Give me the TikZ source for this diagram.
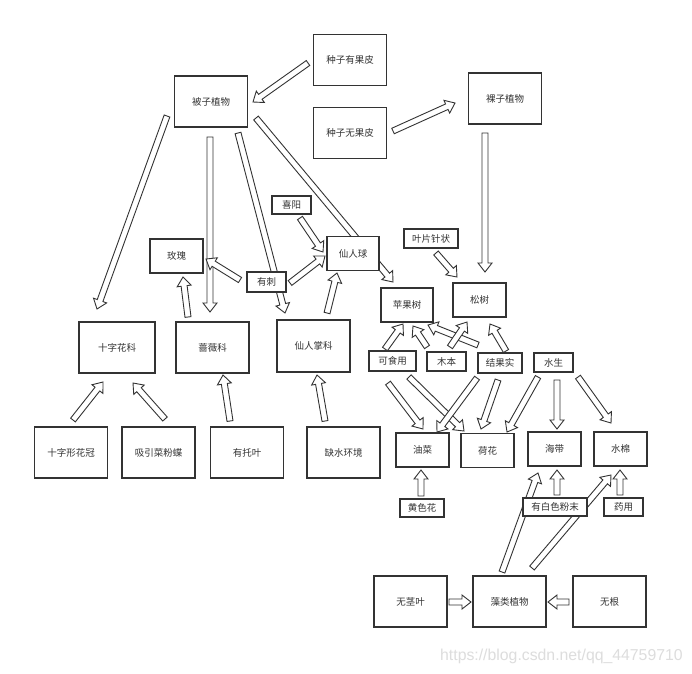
\documentclass[tikz,border=0pt]{standalone}
\usepackage{fontspec}
\setmainfont{Noto Sans CJK SC}
\newfontfamily\wmfont{Liberation Sans}
\usetikzlibrary{calc}
\pgfdeclarelayer{bg}
\pgfdeclarelayer{canvas}
\pgfsetlayers{canvas,bg,main}
\definecolor{ink}{HTML}{333333}
\definecolor{wm}{HTML}{DDDDDD}
\tikzset{
  box/.style={draw=ink, line width=1.1pt, fill=white, text=ink,
    font=\fontsize{9.5}{11}\selectfont, inner sep=0pt,
    minimum width=73pt, minimum height=51pt},
  mid/.style={box, minimum width=53pt, minimum height=34pt},
  tag/.style={box, minimum height=19pt},
  barrow/.style={draw=ink, line width=0.9pt, fill=white, line join=miter},
}
\newcommand\barr[2]{%
  \coordinate (bA) at #1; \coordinate (bB) at #2;
  \coordinate (bH) at ($(bB)!9pt!(bA)$);
  \draw[barrow] ($(bA)!3pt!90:(bB)$) -- ($(bH)!3pt!90:(bB)$) -- ($(bH)!7pt!90:(bB)$)
    -- (bB) -- ($(bH)!7pt!-90:(bB)$) -- ($(bH)!3pt!-90:(bB)$) -- ($(bA)!3pt!-90:(bB)$) -- cycle;}
\begin{document}
\begin{tikzpicture}[x=1pt,y=-1pt]
\begin{pgfonlayer}{canvas}
\fill[white] (0,0) rectangle (692,673);
\end{pgfonlayer}
\useasboundingbox (0,0) rectangle (692,673);
% big boxes
\node[box] (guopi) at (350,60) {种子有果皮};
\node[box] (beizi) at (211,101.5) {被子植物};
\node[box] (wuguopi) at (350,133) {种子无果皮};
\node[box] (luozi) at (505,98.5) {裸子植物};
\node[box, minimum width=76pt] (szhk) at (117,347.5) {十字花科};
\node[box] (qwk) at (212.5,347.5) {蔷薇科};
\node[box, minimum height=52pt] (xrzk) at (313.5,346) {仙人掌科};
\node[box] (szxhg) at (71,452.5) {十字形花冠};
\node[box] (xyc) at (158.5,452.5) {吸引菜粉蝶};
\node[box] (ytuo) at (247,452.5) {有托叶};
\node[box] (qs) at (343.5,452.5) {缺水环境};
\node[box] (wjy) at (410.5,601.5) {无茎叶};
\node[box] (zao) at (509.5,601.5) {藻类植物};
\node[box] (wugen) at (609.5,601.5) {无根};
% middle boxes
\node[mid] (meigui) at (176.5,256) {玫瑰};
\node[mid, minimum width=52pt] (xrq) at (353,253.5) {仙人球};
\node[mid, minimum width=52pt] (pingguo) at (407,305) {苹果树};
\node[mid] (songshu) at (479.5,300) {松树};
\node[mid] (youcai) at (422.5,450) {油菜};
\node[mid] (hehua) at (487.5,450.5) {荷花};
\node[mid] (haidai) at (554.5,449) {海带};
\node[mid] (shuimian) at (620.5,449) {水棉};
% tags
\node[tag, minimum width=39pt, minimum height=18pt] (xiyang) at (291.5,205) {喜阳};
\node[tag, minimum width=39pt, minimum height=20pt] (youci) at (266.5,282) {有刺};
\node[tag, minimum width=54pt] (yepian) at (431,238.5) {叶片针状};
\node[tag, minimum width=47pt, minimum height=20pt] (keshi) at (392.5,361) {可食用};
\node[tag, minimum width=39pt] (muben) at (446.5,361.5) {木本};
\node[tag, minimum width=44pt, minimum height=20pt] (jieguo) at (500,363) {结果实};
\node[tag, minimum width=39pt] (shuisheng) at (553.5,362.5) {水生};
\node[tag, minimum width=44pt, minimum height=18pt] (huangse) at (422,508) {黄色花};
\node[tag, minimum width=64pt, minimum height=18pt] (baise) at (555,507) {有白色粉末};
\node[tag, minimum width=39pt, minimum height=18pt] (yaoyong) at (623.5,507) {药用};
% watermark
\node[anchor=base west, inner sep=0pt, text=wm, font=\wmfont\fontsize{15.8}{17}\selectfont] (wmark) at (440,660) {https://blog.csdn.net/qq\_44759710};
% arrows
\begin{pgfonlayer}{bg}
\barr{($(guopi)+(-42,3)$)}{($(beizi)+(42,0.5)$)}
\barr{($(wuguopi)+(43,-2)$)}{($(luozi)+(-50,4.5)$)}
\barr{($(luozi)+(-20,34.5)$)}{($(songshu)+(5.5,-28)$)}
\barr{($(beizi)+(-44,14.5)$)}{($(szhk)+(-20,-38.5)$)}
\barr{($(beizi)+(-1,35.5)$)}{($(qwk)+(-2.5,-35.5)$)}
\barr{($(beizi)+(27,31.5)$)}{($(xrzk)+(-28.5,-33)$)}
\barr{($(beizi)+(45,16.5)$)}{($(pingguo)+(-14,-23)$)}
\barr{($(xiyang)+(8.5,13)$)}{($(xrq)+(-30,-1.5)$)}
\barr{($(youci)+(23.5,1)$)}{($(xrq)+(-28,2.5)$)}
\barr{($(youci)+(-26.5,-2)$)}{($(meigui)+(29.5,3)$)}
\barr{($(qwk)+(-24.5,-30.5)$)}{($(meigui)+(6.5,21)$)}
\barr{($(xrzk)+(13.5,-33)$)}{($(xrq)+(-16,19.5)$)}
\barr{($(yepian)+(5,14.5)$)}{($(songshu)+(-22.5,-23)$)}
\barr{($(keshi)+(-7.5,-12)$)}{($(pingguo)+(-4,19)$)}
\barr{($(muben)+(-19.5,-14.5)$)}{($(pingguo)+(6,21)$)}
\barr{($(jieguo)+(-22,-18)$)}{($(pingguo)+(21,20)$)}
\barr{($(muben)+(3.5,-14.5)$)}{($(songshu)+(-12.5,22)$)}
\barr{($(jieguo)+(6,-12)$)}{($(songshu)+(10.5,24)$)}
\barr{($(keshi)+(-4.5,22)$)}{($(youcai)+(0.5,-21)$)}
\barr{($(keshi)+(16.5,16)$)}{($(hehua)+(-23.5,-19.5)$)}
\barr{($(jieguo)+(-23,15)$)}{($(youcai)+(14.5,-18)$)}
\barr{($(jieguo)+(-2,17)$)}{($(hehua)+(-6.5,-21.5)$)}
\barr{($(shuisheng)+(-15.5,14.5)$)}{($(hehua)+(19.5,-18.5)$)}
\barr{($(shuisheng)+(3.5,17.5)$)}{($(haidai)+(2.5,-20)$)}
\barr{($(shuisheng)+(24.5,14.5)$)}{($(shuimian)+(-9.5,-26)$)}
\barr{($(huangse)+(-1,-12)$)}{($(youcai)+(-1.5,20)$)}
\barr{($(baise)+(2,-12)$)}{($(haidai)+(2.5,21)$)}
\barr{($(yaoyong)+(-3.5,-12)$)}{($(shuimian)+(-0.5,21)$)}
\barr{($(zao)+(-7.5,-29.5)$)}{($(haidai)+(-16.5,24)$)}
\barr{($(zao)+(22.5,-33.5)$)}{($(shuimian)+(-9.5,26)$)}
\barr{($(wjy)+(38.5,0.5)$)}{($(zao)+(-38.5,0.5)$)}
\barr{($(wugen)+(-40.5,0.5)$)}{($(zao)+(38.5,0.5)$)}
\barr{($(szxhg)+(2,-32.5)$)}{($(szhk)+(-14,34.5)$)}
\barr{($(xyc)+(6.5,-33.5)$)}{($(szhk)+(16,35.5)$)}
\barr{($(ytuo)+(-17,-31.5)$)}{($(qwk)+(10.5,27.5)$)}
\barr{($(qs)+(-18.5,-31.5)$)}{($(xrzk)+(3.5,29)$)}
\end{pgfonlayer}
\end{tikzpicture}
\end{document}
